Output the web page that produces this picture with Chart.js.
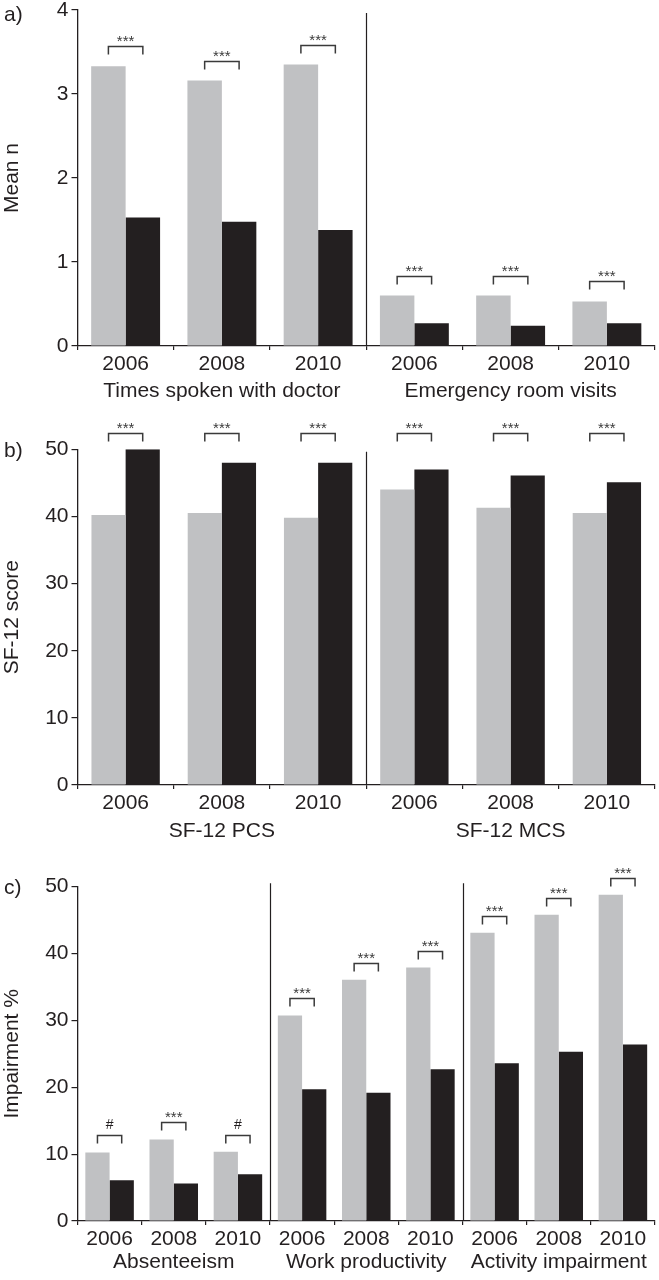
<!DOCTYPE html>
<html>
<head>
<meta charset="utf-8">
<script src="https://cdn.jsdelivr.net/npm/chart.js@4/dist/chart.umd.min.js"></script>
<style>
    body { margin: 0; background: #fff; }
    canvas { position: absolute; left: 0; }
</style>
</head>
<body>
<canvas id="chartA" width="659" height="405" style="top:0"></canvas>
<canvas id="chartB" width="659" height="440" style="top:405px"></canvas>
<canvas id="chartC" width="659" height="435" style="top:845px"></canvas>
<script>
// panel a) - mean number of contacts
const yearsA = ['2006', '2008', '2010', '2006', '2008', '2010'];
const groupsA = ['Times spoken with doctor', 'Emergency room visits'];
const grayA = [3.33, 3.16, 3.35, 0.60, 0.60, 0.53];
const blackA = [1.53, 1.48, 1.38, 0.27, 0.24, 0.27];
const sigA = ['***', '***', '***', '***', '***', '***'];

// panel b) - SF-12 scores
const yearsB = ['2006', '2008', '2010', '2006', '2008', '2010'];
const groupsB = ['SF-12 PCS', 'SF-12 MCS'];
const grayB = [40.2, 40.5, 39.8, 44.0, 41.3, 40.5];
const blackB = [50.0, 48.0, 48.0, 47.0, 46.1, 45.1];
const sigB = ['***', '***', '***', '***', '***', '***'];

// panel c) - WPAI impairment
const yearsC = ['2006', '2008', '2010', '2006', '2008', '2010', '2006', '2008', '2010'];
const groupsC = ['Absenteeism', 'Work productivity', 'Activity impairment'];
const grayC = [10.25, 12.2, 10.35, 30.75, 36.1, 37.9, 43.1, 45.8, 48.8];
const blackC = [6.1, 5.6, 7.0, 19.7, 19.2, 22.7, 23.6, 25.3, 26.4];
const sigC = ['#', '***', '#', '***', '***', '***', '***', '***', '***'];

const FONT = '"Liberation Sans", Arial, sans-serif';
const INK = '#231f20';
const GRAY = '#c0c1c3';

Chart.defaults.font.family = FONT;
Chart.defaults.color = INK;

const panelDecor = {
    id: 'panelDecor',
    afterDatasetsDraw(chart, args, opts) {
        const ctx = chart.ctx;
        const area = chart.chartArea;
        const x = chart.scales.x;
        const n = opts.groupSize;
        ctx.save();
        ctx.strokeStyle = INK;
        ctx.fillStyle = INK;

        // group dividers
        ctx.lineWidth = 1.2;
        for (let g = 1; g < opts.groups.length; g++) {
            const xp = Math.round((x.getPixelForTick(g * n - 1) + x.getPixelForTick(g * n)) / 2) + 0.5;
            ctx.beginPath();
            ctx.moveTo(xp, area.top + opts.dividerTop);
            ctx.lineTo(xp, area.bottom);
            ctx.stroke();
        }

        // group labels under the years
        ctx.font = '21px ' + FONT;
        ctx.textAlign = 'center';
        ctx.textBaseline = 'alphabetic';
        opts.groups.forEach((name, g) => {
            const cx = (x.getPixelForTick(g * n) + x.getPixelForTick(g * n + n - 1)) / 2;
            ctx.fillText(name, cx, area.bottom + opts.groupOffset);
        });

        // panel letter
        ctx.textAlign = 'left';
        ctx.textBaseline = 'middle';
        ctx.fillText(opts.letter, 4, area.top + opts.letterOffset);

        // significance brackets
        const m0 = chart.getDatasetMeta(0).data;
        const m1 = chart.getDatasetMeta(1).data;
        ctx.lineWidth = 1.5;
        ctx.strokeStyle = '#3a3a3a';
        opts.sig.forEach((s, i) => {
            const x1 = m0[i].x, x2 = m1[i].x;
            let top;
            if (opts.bracketMode === 'top') top = area.top - opts.bracketGap;
            else top = Math.min(m0[i].y, m1[i].y) - opts.bracketGap;
            top = Math.round(top) + 0.5;
            ctx.beginPath();
            ctx.moveTo(x1, top + 8);
            ctx.lineTo(x1, top);
            ctx.lineTo(x2, top);
            ctx.lineTo(x2, top + 8);
            ctx.stroke();
            ctx.textAlign = 'center';
            ctx.textBaseline = 'alphabetic';
            if (s === '#') {
                ctx.fillStyle = INK;
                ctx.font = '14px ' + FONT;
                ctx.fillText(s, (x1 + x2) / 2, top - 6.5);
            } else {
                ctx.fillStyle = '#3a3a3a';
                ctx.font = '15px ' + FONT;
                ctx.fillText(s, (x1 + x2) / 2, top - 1);
            }
        });
        ctx.restore();
    }
};

function makePanel(id, labels, gray, black, cfg) {
    new Chart(document.getElementById(id), {
        type: 'bar',
        data: {
            labels: labels,
            datasets: [
                { data: gray, backgroundColor: GRAY },
                { data: black, backgroundColor: INK }
            ]
        },
        options: {
            responsive: false,
            animation: false,
            events: [],
            layout: { padding: { top: cfg.padTop, bottom: cfg.padBottom, left: 0, right: 4 } },
            datasets: {
                bar: { categoryPercentage: cfg.catPct, barPercentage: 1, borderWidth: 0 }
            },
            plugins: {
                legend: { display: false },
                tooltip: { enabled: false },
                panelDecor: cfg.decor
            },
            scales: {
                x: {
                    offset: true,
                    grid: { display: true, drawOnChartArea: false, offset: true, tickLength: 4, color: INK, lineWidth: 1.2 },
                    border: { display: true, color: INK, width: 1.3 },
                    ticks: { font: { size: 21 }, padding: 2, autoSkip: false, maxRotation: 0, color: INK },
                    afterFit: (s) => { s.height = 28; s.paddingLeft = 0; s.paddingRight = 0; }
                },
                y: {
                    min: 0,
                    max: cfg.max,
                    ticks: { stepSize: cfg.step, font: { size: 21 }, padding: 3, color: INK },
                    grid: { display: true, drawOnChartArea: false, tickLength: 6, color: INK, lineWidth: 1.2 },
                    border: { display: true, color: INK, width: 1.3 },
                    title: { display: true, text: cfg.yTitle, font: { size: 21 }, padding: 0, color: INK },
                    afterFit: (s) => { s.width = 77.5; s.paddingTop = 0; s.paddingBottom = 0; }
                }
            }
        },
        plugins: [panelDecor]
    });
}

makePanel('chartA', yearsA, grayA, blackA, {
    padTop: 10, padBottom: 31, catPct: 0.716, max: 4, step: 1, yTitle: 'Mean n',
    decor: { letter: 'a)', letterOffset: 5, groups: groupsA, groupSize: 3, groupOffset: 51,
             dividerTop: 3, sig: sigA, bracketMode: 'bar', bracketGap: 20 }
});
makePanel('chartB', yearsB, grayB, blackB, {
    padTop: 44.3, padBottom: 32, catPct: 0.71, max: 50, step: 10, yTitle: 'SF-12 score',
    decor: { letter: 'b)', letterOffset: 2, groups: groupsB, groupSize: 3, groupOffset: 52,
             dividerTop: 2.5, sig: sigB, bracketMode: 'top', bracketGap: 16.5 }
});
makePanel('chartC', yearsC, grayC, blackC, {
    padTop: 41.7, padBottom: 31, catPct: 0.756, max: 50, step: 10, yTitle: 'Impairment %',
    decor: { letter: 'c)', letterOffset: 2, groups: groupsC, groupSize: 3, groupOffset: 47,
             dividerTop: -3.5, sig: sigC, bracketMode: 'bar', bracketGap: 17 }
});
</script>
</body>
</html>
